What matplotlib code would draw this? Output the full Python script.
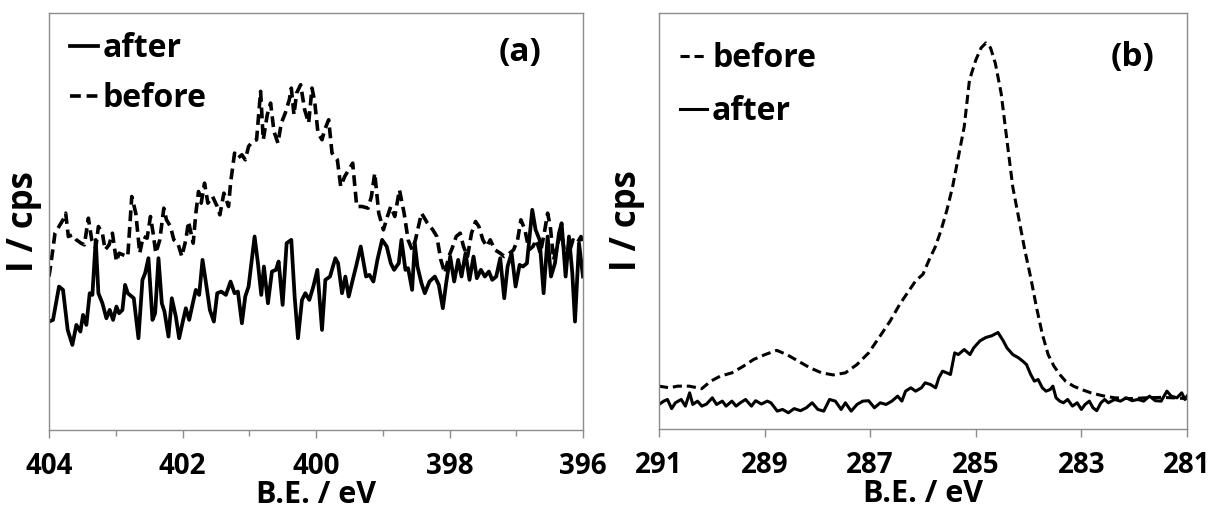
import matplotlib
matplotlib.use("Agg")
import matplotlib.pyplot as plt
from matplotlib.ticker import MultipleLocator

plt.rcParams['font.family'] = ['Open Sans', 'DejaVu Sans']
plt.rcParams['font.weight'] = 'bold'

# ---- panel (a): N 1s region, intensity in arbitrary units ----
a_after_be = [404.00, 403.94, 403.85, 403.79, 403.72, 403.65, 403.59, 403.53, 403.49, 403.44,
              403.39, 403.35, 403.30, 403.26, 403.20, 403.14, 403.09, 403.04, 402.99, 402.95,
              402.90, 402.86, 402.82, 402.73, 402.66, 402.60, 402.56, 402.51, 402.45, 402.41,
              402.36, 402.31, 402.27, 402.21, 402.16, 402.10, 402.05, 401.99, 401.95, 401.90,
              401.84, 401.80, 401.75, 401.70, 401.64, 401.59, 401.53, 401.48, 401.42, 401.35,
              401.28, 401.22, 401.17, 401.11, 401.06, 401.01, 400.95, 400.92, 400.87, 400.82,
              400.78, 400.72, 400.66, 400.60, 400.56, 400.50, 400.44, 400.37, 400.32, 400.27,
              400.21, 400.16, 400.10, 400.04, 399.98, 399.91, 399.86, 399.79, 399.71, 399.67,
              399.61, 399.56, 399.51, 399.45, 399.40, 399.33, 399.25, 399.20, 399.14, 399.08,
              399.01, 398.94, 398.88, 398.83, 398.76, 398.72, 398.66, 398.62, 398.56, 398.52,
              398.48, 398.42, 398.37, 398.30, 398.22, 398.16, 398.10, 398.05, 397.99, 397.93,
              397.87, 397.82, 397.76, 397.70, 397.64, 397.59, 397.53, 397.47, 397.41, 397.36,
              397.30, 397.24, 397.18, 397.13, 397.07, 397.01, 396.95, 396.90, 396.84, 396.76,
              396.71, 396.65, 396.59, 396.53, 396.48, 396.42, 396.36, 396.32, 396.26, 396.21,
              396.16, 396.12, 396.06, 396.00]
a_after_i = [26.0, 26.4, 34.4, 33.6, 24.0, 20.4, 25.2, 23.6, 27.6, 25.2,
             32.8, 32.4, 45.6, 32.8, 30.4, 26.8, 28.8, 26.4, 29.6, 28.0,
             28.8, 34.8, 32.8, 31.6, 22.0, 36.0, 37.6, 41.2, 26.4, 28.0,
             41.2, 30.4, 28.4, 22.4, 31.6, 27.2, 22.0, 26.4, 29.2, 26.4,
             30.8, 33.6, 32.4, 40.8, 34.4, 28.8, 26.0, 32.8, 33.2, 32.4,
             35.6, 32.8, 33.2, 25.6, 32.0, 34.4, 42.4, 46.4, 40.0, 32.4,
             39.2, 30.4, 38.0, 38.4, 40.4, 30.0, 44.8, 45.6, 32.0, 22.0,
             31.2, 32.8, 31.2, 34.4, 38.4, 24.0, 36.0, 36.8, 41.2, 40.0,
             32.8, 36.8, 32.0, 36.0, 39.2, 44.0, 36.8, 37.2, 35.6, 40.8,
             45.6, 44.0, 40.0, 38.4, 40.0, 45.6, 38.4, 38.8, 33.6, 44.8,
             39.2, 35.2, 32.8, 35.6, 36.8, 34.8, 29.2, 35.2, 41.6, 35.6,
             40.8, 36.8, 42.4, 36.0, 41.6, 36.4, 38.4, 36.8, 38.0, 36.0,
             36.8, 41.2, 31.6, 39.2, 42.4, 34.4, 39.6, 39.2, 40.0, 52.8,
             48.0, 45.6, 32.8, 46.4, 36.8, 40.0, 47.2, 49.6, 36.8, 46.4,
             37.6, 26.0, 44.8, 36.8]

a_before_be = [404.00, 403.97, 403.91, 403.85, 403.79, 403.75, 403.71, 403.65, 403.59, 403.52,
               403.47, 403.41, 403.36, 403.30, 403.26, 403.20, 403.16, 403.10, 403.05, 402.99,
               402.95, 402.89, 402.82, 402.76, 402.70, 402.64, 402.59, 402.53, 402.48, 402.44,
               402.40, 402.34, 402.28, 402.24, 402.18, 402.13, 402.07, 402.01, 401.95, 401.91,
               401.84, 401.80, 401.76, 401.72, 401.67, 401.62, 401.55, 401.48, 401.44, 401.38,
               401.31, 401.28, 401.22, 401.17, 401.11, 401.06, 401.01, 400.95, 400.89, 400.83,
               400.79, 400.73, 400.68, 400.63, 400.57, 400.52, 400.46, 400.40, 400.37, 400.33,
               400.29, 400.23, 400.17, 400.11, 400.06, 400.02, 399.97, 399.91, 399.87, 399.81,
               399.76, 399.68, 399.63, 399.57, 399.51, 399.45, 399.39, 399.31, 399.22, 399.17,
               399.12, 399.06, 398.99, 398.93, 398.88, 398.82, 398.75, 398.68, 398.62, 398.56,
               398.51, 398.42, 398.33, 398.25, 398.19, 398.13, 398.07, 398.01, 397.96, 397.90,
               397.84, 397.79, 397.73, 397.67, 397.61, 397.56, 397.50, 397.44, 397.39, 397.32,
               397.24, 397.18, 397.13, 397.04, 396.98, 396.93, 396.87, 396.81, 396.75, 396.70,
               396.64, 396.58, 396.53, 396.49, 396.44, 396.38, 396.32, 396.26, 396.21, 396.15,
               396.09, 396.03, 396.00]
a_before_i = [36.8, 40.0, 47.2, 48.8, 50.4, 52.0, 46.4, 46.8, 45.6, 44.8,
              44.4, 50.8, 45.6, 43.6, 48.8, 47.2, 43.2, 44.4, 47.2, 40.4,
              42.4, 42.0, 41.6, 56.0, 52.0, 42.4, 46.4, 46.0, 51.2, 47.2,
              42.4, 45.6, 53.2, 50.4, 48.8, 45.6, 44.8, 41.6, 45.6, 50.0,
              44.8, 52.0, 57.2, 54.4, 59.2, 54.4, 56.0, 53.6, 51.6, 56.8,
              53.6, 59.2, 66.4, 65.2, 66.0, 64.8, 68.0, 69.2, 69.6, 81.2,
              69.6, 75.6, 78.4, 71.6, 68.8, 73.6, 76.0, 79.2, 82.0, 75.6,
              80.8, 82.8, 76.8, 73.6, 82.0, 78.8, 71.2, 69.6, 72.0, 74.4,
              66.4, 64.8, 58.4, 60.8, 62.4, 64.0, 53.6, 53.6, 53.2, 56.0,
              61.6, 52.0, 48.0, 51.2, 53.6, 51.2, 57.6, 52.0, 45.6, 43.2,
              45.6, 52.0, 49.6, 48.0, 46.4, 40.8, 37.6, 41.6, 43.6, 46.4,
              47.2, 44.0, 41.6, 47.2, 50.0, 48.8, 45.6, 44.0, 45.6, 43.2,
              42.4, 41.6, 42.0, 43.2, 45.6, 50.4, 48.0, 43.2, 44.0, 45.6,
              42.4, 47.2, 52.0, 48.8, 40.8, 44.8, 47.2, 40.8, 42.4, 45.6,
              44.8, 46.4, 44.0]

# ---- panel (b): C 1s region ----
b_before_be = [291.00, 290.80, 290.65, 290.43, 290.19, 290.02, 289.84, 289.62, 289.40, 289.21,
               288.99, 288.77, 288.58, 288.36, 288.14, 287.92, 287.70, 287.47, 287.25, 287.03,
               286.81, 286.62, 286.44, 286.29, 286.14, 286.00, 285.89, 285.77, 285.66, 285.55,
               285.44, 285.33, 285.22, 285.12, 285.00, 284.90, 284.81, 284.72, 284.63, 284.52,
               284.41, 284.30, 284.19, 284.07, 283.96, 283.85, 283.74, 283.63, 283.52, 283.41,
               283.30, 283.15, 283.00, 282.82, 282.60, 282.37, 282.08, 281.78, 281.49, 281.27,
               281.00]
b_before_i = [10.3, 9.9, 10.3, 10.3, 9.7, 11.5, 12.7, 13.5, 15.1, 16.7,
              17.9, 18.9, 17.9, 16.3, 14.7, 13.5, 13.0, 13.5, 15.5, 18.3,
              22.4, 26.0, 30.0, 32.8, 35.6, 37.2, 40.5, 43.7, 47.7, 52.5,
              58.2, 65.4, 72.6, 83.9, 88.7, 91.6, 92.8, 91.6, 87.9, 80.7,
              69.4, 58.2, 50.9, 42.9, 36.4, 29.2, 22.8, 17.9, 15.1, 13.1,
              11.5, 10.3, 9.5, 8.7, 8.0, 7.5, 7.3, 7.5, 7.6, 7.5,
              7.3]

b_after_be = [291.00, 290.91, 290.84, 290.76, 290.69, 290.58, 290.50, 290.42, 290.36, 290.27,
              290.19, 290.10, 289.99, 289.91, 289.80, 289.73, 289.62, 289.54, 289.46, 289.36,
              289.25, 289.17, 289.06, 288.95, 288.88, 288.76, 288.66, 288.55, 288.44, 288.32,
              288.21, 288.10, 287.99, 287.88, 287.77, 287.66, 287.55, 287.47, 287.36, 287.25,
              287.14, 287.03, 286.92, 286.81, 286.70, 286.59, 286.48, 286.40, 286.33, 286.23,
              286.14, 286.03, 285.96, 285.86, 285.76, 285.70, 285.63, 285.55, 285.48, 285.40,
              285.33, 285.22, 285.11, 285.04, 284.92, 284.81, 284.70, 284.58, 284.48, 284.41,
              284.30, 284.19, 284.11, 284.04, 283.96, 283.89, 283.82, 283.74, 283.67, 283.59,
              283.54, 283.48, 283.41, 283.34, 283.26, 283.17, 283.08, 283.00, 282.93, 282.85,
              282.78, 282.71, 282.63, 282.56, 282.49, 282.37, 282.26, 282.15, 282.04, 281.93,
              281.82, 281.71, 281.60, 281.49, 281.38, 281.30, 281.19, 281.10, 281.04, 281.00]
b_after_i = [5.9, 6.7, 7.1, 4.9, 6.3, 7.1, 5.5, 8.7, 5.9, 6.7,
             5.5, 6.0, 7.5, 5.9, 6.7, 5.5, 6.7, 5.5, 6.3, 7.1,
             5.5, 6.8, 6.0, 6.7, 6.3, 4.3, 4.7, 3.9, 4.9, 4.4,
             5.1, 6.3, 4.7, 4.3, 7.1, 6.7, 4.7, 6.3, 4.3, 5.9,
             6.7, 6.8, 5.1, 6.3, 5.9, 6.7, 7.9, 6.7, 9.1, 9.9,
             9.1, 9.9, 11.1, 10.7, 9.9, 12.3, 13.9, 13.5, 13.1, 18.3,
             17.9, 19.1, 17.9, 19.5, 21.2, 22.0, 22.4, 23.2, 21.2, 19.5,
             17.9, 17.1, 16.3, 15.5, 13.1, 11.5, 11.9, 9.9, 9.1, 9.5,
             10.3, 7.5, 6.7, 6.3, 7.1, 5.5, 6.3, 4.7, 5.9, 6.7,
             5.1, 4.4, 6.3, 7.1, 6.3, 7.1, 6.7, 7.5, 6.8, 7.1,
             6.7, 7.9, 6.8, 6.7, 9.1, 7.9, 7.5, 8.7, 7.1, 7.9]

b_ticks = [291, 289, 287, 285, 283, 281]

W, H = 1211, 515
fig = plt.figure(figsize=(W / 100, H / 100), dpi=100)
ax1 = fig.add_axes([49 / W, (H - 430) / H, 534 / W, 417 / H])
ax2 = fig.add_axes([659 / W, (H - 429) / H, 528 / W, 416 / H])

DASH = (0, (3.0, 1.6))
GRAY = '#8c8c8c'

ax1.plot(a_after_be, a_after_i, color='black', lw=2.7, label='after')
ax1.plot(a_before_be, a_before_i, color='black', lw=2.6, ls=DASH, label='before')
ax2.plot(b_before_be, b_before_i, color='black', lw=2.2, ls=DASH, label='before')
ax2.plot(b_after_be, b_after_i, color='black', lw=2.2, label='after')

ax1.set_xlim(404, 396)
ax2.set_xlim(291, 281)
ax1.xaxis.set_major_locator(MultipleLocator(2))
ax1.xaxis.set_minor_locator(MultipleLocator(1))
ax2.set_xticks(b_ticks)

setup = [(ax1, '(a)', (0.882, 0.906), 0.955, 0.53, -0.013),
         (ax2, '(b)', (0.896, 0.894), 0.93, 0.63, -0.027)]
for ax, tag, pos, leg_top, leg_sp, ylab_x in setup:
    ax.set_ylim(0, 100)
    ax.set_yticks([])
    for s in ax.spines.values():
        s.set_color(GRAY)
        s.set_linewidth(1.0)
    ax.tick_params(axis='x', which='major', direction='out', length=6, width=1,
                   color=GRAY, pad=10, labelsize=20)
    ax.tick_params(axis='x', which='minor', direction='out', length=4.5, width=1, color=GRAY)
    for t in ax.get_xticklabels():
        t.set_fontweight('bold')
    ax.set_xlabel('B.E. / eV', fontsize=22, fontweight='bold', va='baseline')
    ax.xaxis.set_label_coords(0.5, -0.175)
    ax.set_ylabel('I / cps', fontsize=25, fontweight='bold')
    ax.yaxis.set_label_coords(ylab_x, 0.5)
    ax.text(pos[0], pos[1], tag, transform=ax.transAxes, ha='center', va='center',
            fontsize=24, fontweight='bold')
    ax.legend(loc='upper left', bbox_to_anchor=(0.04, leg_top), frameon=False,
              prop={'size': 23, 'weight': 'bold'}, handlelength=0.85,
              handletextpad=0.15, labelspacing=leg_sp, borderpad=0, borderaxespad=0)

fig.savefig('out.png', dpi=100)
